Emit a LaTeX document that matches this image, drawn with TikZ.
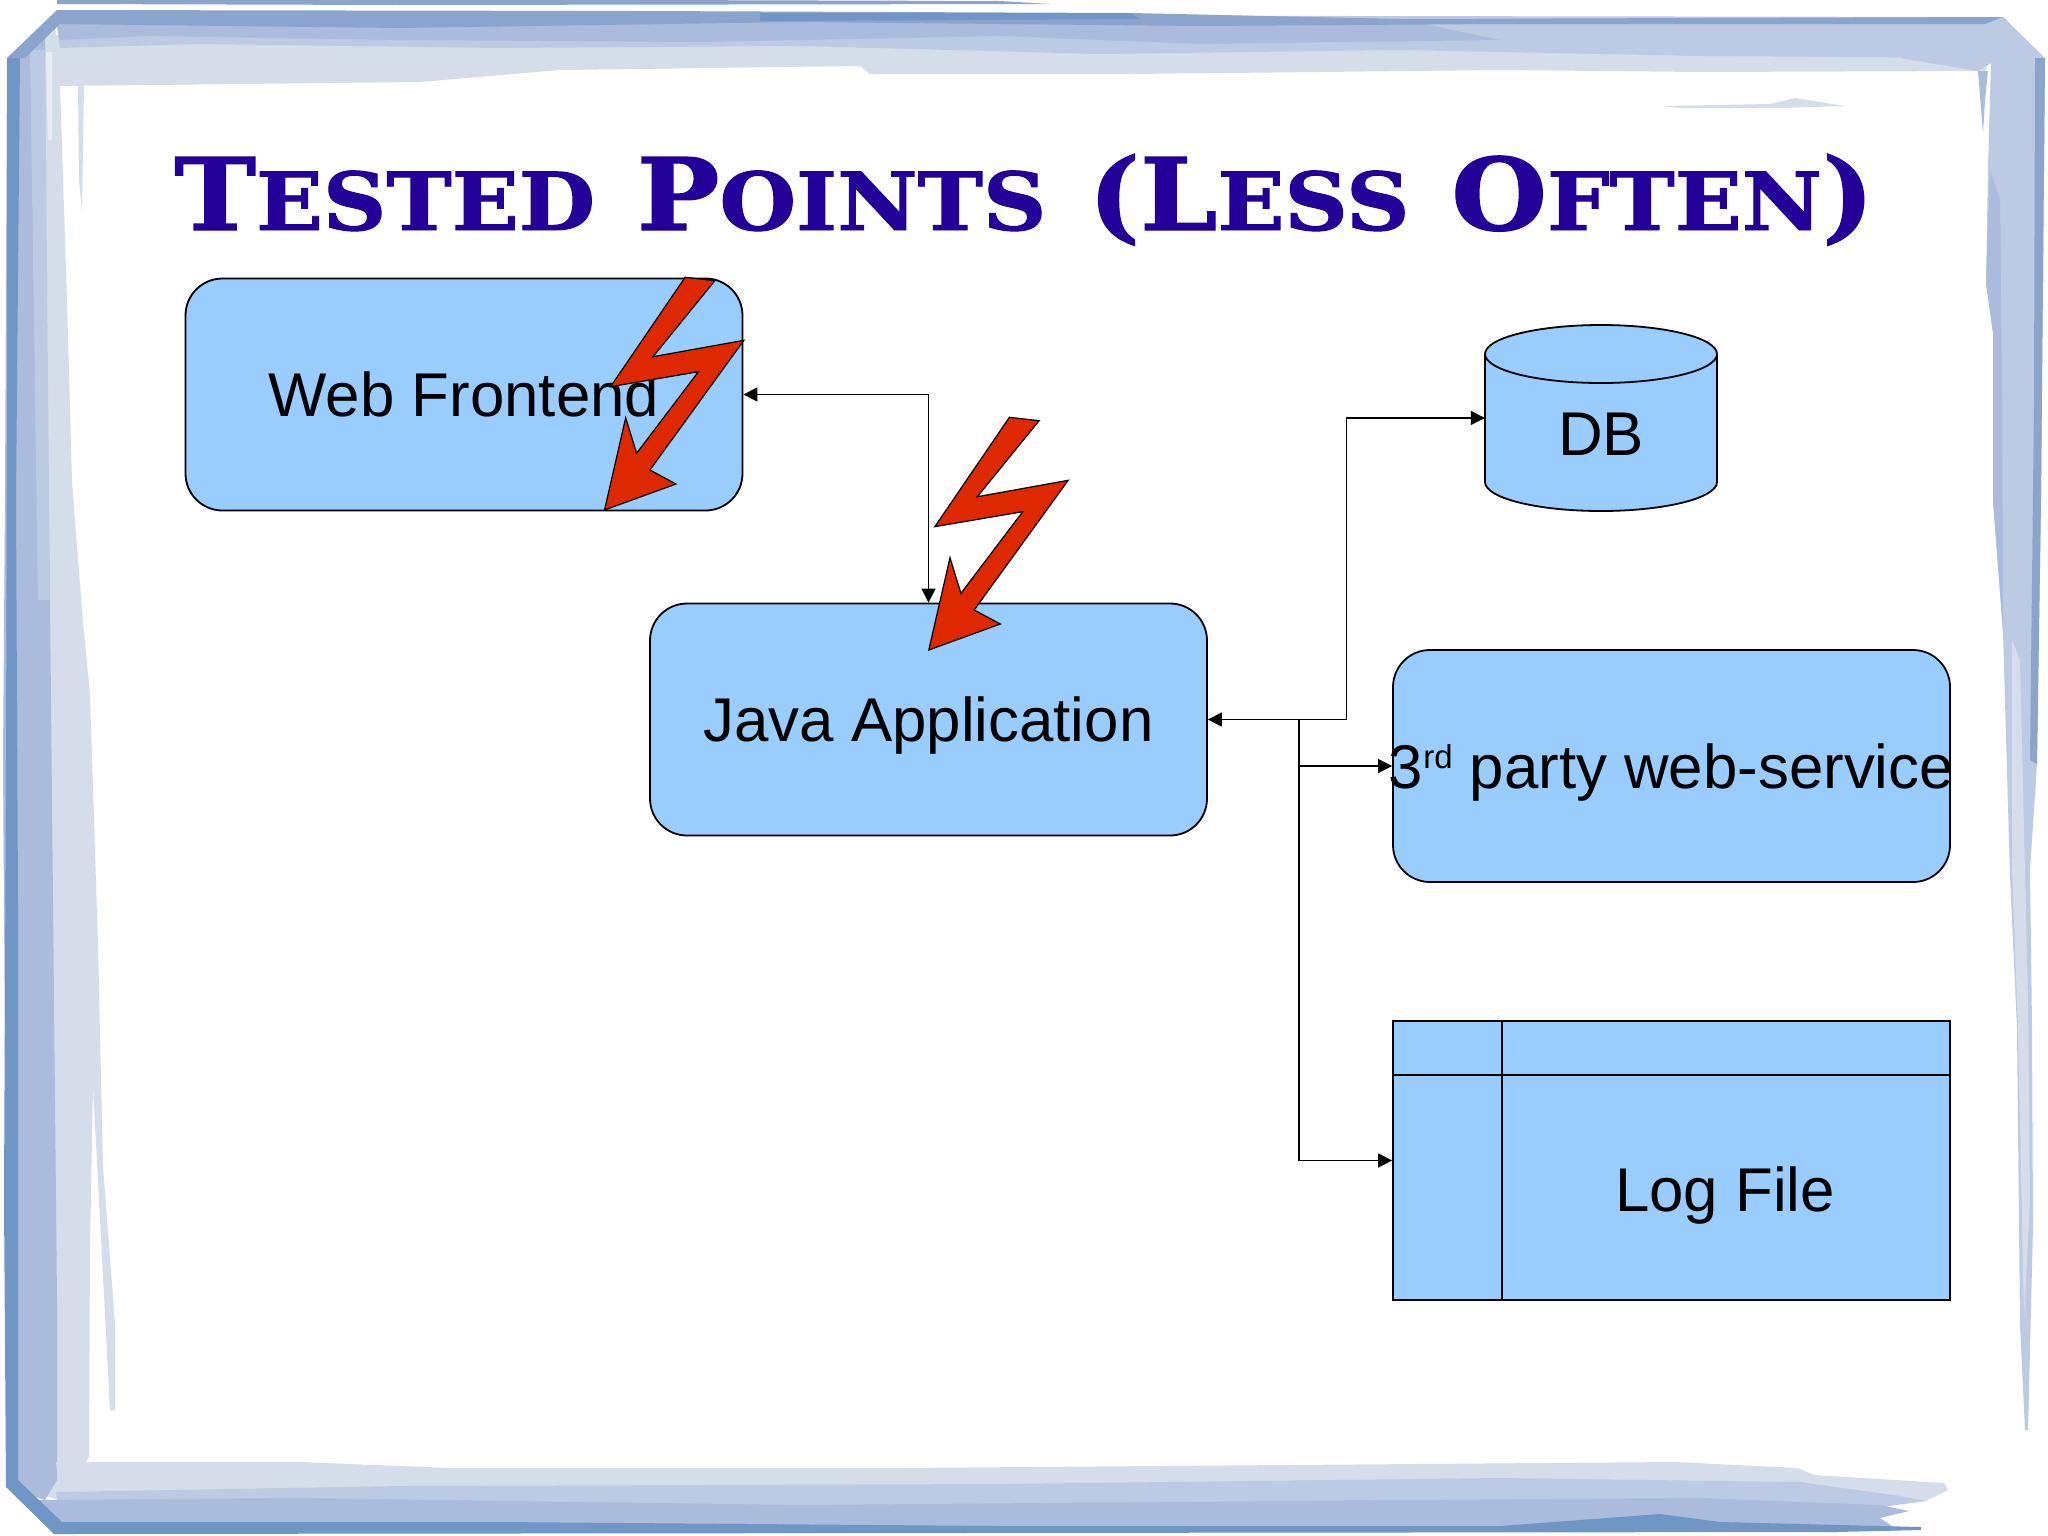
\documentclass[tikz,border=0pt]{standalone}
\usepackage{fontspec}
\usepackage{graphicx}
\setmainfont{Liberation Sans}
\newfontfamily\titlefont[BoldFont={DejaVu Serif Bold},BoldFeatures={FakeBold=1.2}]{DejaVu Serif}
\usetikzlibrary{arrows.meta}
\definecolor{boxblue}{HTML}{99CCFF}
\definecolor{boltred}{HTML}{DD2800}
\definecolor{titleblue}{HTML}{230098}
\definecolor{fdark}{HTML}{7096C6}
\definecolor{fdeep}{HTML}{8AA4CC}
\definecolor{fmid}{HTML}{ABBBDC}
\definecolor{fsoft}{HTML}{BDCAE3}
\definecolor{flight}{HTML}{D6DDEA}
\definecolor{fpale}{HTML}{E8ECF5}
\newcommand{\mytitlebig}[1]{{\fontsize{100}{100}\selectfont #1}}
\newcommand{\mytitlesmall}[1]{{\fontsize{80}{80}\selectfont #1}}
\newcommand{\mygap}{\hspace{38pt}}
\newcommand{\mybolt}{(1009.4,417.3) -- (934.8,526.7) -- (1022.7,511.7) -- (960.9,593.3) -- (950,557.7) -- (928.8,650) -- (1000.3,624) -- (974.2,610) -- (1068.2,480.3) -- (977.3,496.7) -- (1039.1,420.7) -- cycle}
\tikzset{
  box/.style={draw=black,line width=1.8pt,fill=boxblue,inner sep=0pt,font=\fontsize{61.8}{61.8}\selectfont,text height=44pt,text depth=0pt},
  roundbox/.style={box,rounded corners=37pt,minimum width=557pt,minimum height=232pt},
  boxtext/.style={inner sep=0pt,font=\fontsize{61.8}{61.8}\selectfont,text height=44pt,text depth=0pt},
  link/.style={draw=black,line width=1.5pt,arrows={Triangle[length=14pt,width=14pt]-Triangle[length=14pt,width=14pt]}},
  linkend/.style={draw=black,line width=1.5pt,-{Triangle[length=14pt,width=14pt]}},
  bolt/.style={fill=boltred,draw=black,line width=1.2pt,line join=miter}
}
\begin{document}
\begin{tikzpicture}[x=1pt,y=-1pt]
\useasboundingbox (0,0) rectangle (2048,1535);
\fill[white] (0,0) rectangle (2048,1535);
% --- brushed frame: top
\fill[fdeep] (57,0) -- (640,0) -- (1000,1) -- (1050,4) -- (400,5) -- (57,4) -- cycle;
\fill[flight] (50,48) -- (60,86) -- (420,82) -- (560,70) -- (860,66) -- (870,74) -- (1130,74) -- (1320,72) -- (1500,70) -- (1700,72) -- (1985,71) -- (2000,40) -- (50,35) -- cycle;
\fill[fsoft] (55,14) -- (2003,17) -- (2040,58) -- (1995,58) -- (1700,56) -- (1400,50) -- (1100,54) -- (800,46) -- (500,48) -- (200,44) -- (60,48) -- cycle;
\fill[fmid] (55,12) -- (500,12) -- (1130,16) -- (1400,19) -- (1500,40) -- (1200,44) -- (1000,36) -- (700,42) -- (400,40) -- (150,36) -- (60,40) -- cycle;
\fill[fdeep] (57,10) -- (640,11) -- (1130,13) -- (1400,19) -- (2003,17) -- (2010,24) -- (1500,24) -- (1200,26) -- (800,22) -- (400,28) -- (60,24) -- cycle;
\fill[fdark] (760,13) -- (1130,13) -- (1140,19) -- (760,21) -- cycle;
\fill[flight] (1663,106) -- (1770,104) -- (1795,98) -- (1845,106) -- (1780,108) -- (1680,108) -- cycle;
% --- left
\fill[flight] (8,58) -- (55,25) -- (60,85) -- (67,300) -- (72,481) -- (83,623) -- (90,694) -- (98,945) -- (103,1166) -- (115,1324) -- (115,1410) -- (110,1410) -- (103,1276) -- (93,1087) -- (90,1245) -- (89,1457) -- (60,1500) -- (8,1487) -- cycle;
\fill[fmid] (7,58) -- (45,25) -- (46,300) -- (50,600) -- (53,900) -- (57,1300) -- (57,1480) -- (45,1500) -- (6,1487) -- (6,1200) -- (3,760) -- (5,500) -- cycle;
\fill[fsoft] (30,50) -- (45,50) -- (50,600) -- (38,600) -- cycle;
\fill[fpale] (46,52) -- (52,52) -- (52,140) -- (48,140) -- cycle;
\fill[flight] (78,85) -- (84,85) -- (82,210) -- (79,180) -- cycle;
\fill[fdark] (7,58) -- (20,58) -- (16,500) -- (18,900) -- (18,1480) -- (6,1487) -- (4,1200) -- (6,760) -- (7,400) -- cycle;
\fill[fdeep] (7,58) -- (57,10) -- (62,22) -- (25,58) -- cycle;
% --- right
\fill[fsoft] (2003,17) -- (2045,58) -- (2041,500) -- (2037,764) -- (2030,870) -- (2032,1028) -- (2033,1226) -- (2028,1430) -- (2025,1430) -- (2020,1325) -- (2017,1028) -- (2010,876) -- (2003,632) -- (1993,500) -- (1993,333) -- (1986,283) -- (1988,167) -- (1991,63) -- (1978,71) -- (1900,58) -- cycle;
\fill[fmid] (1990,170) -- (2000,200) -- (2002,400) -- (2003,632) -- (1993,500) -- (1993,333) -- (1986,283) -- cycle;
\fill[fdeep] (2035,58) -- (2045,58) -- (2041,500) -- (2037,764) -- (2030,760) -- (2034,400) -- cycle;
\fill[flight] (2012,640) -- (2020,660) -- (2028,1000) -- (2030,1200) -- (2024,1320) -- (2018,1028) -- (2012,870) -- cycle;
\fill[fmid] (1978,71) -- (1988,71) -- (1985,100) -- (1983,133) -- cycle;
% --- bottom
\fill[flight] (56,1462) -- (300,1462) -- (450,1468) -- (900,1468) -- (1675,1462) -- (1797,1468) -- (1815,1475) -- (1944,1483) -- (1948,1490) -- (1926,1501) -- (1600,1520) -- (60,1500) -- cycle;
\fill[fsoft] (56,1492) -- (400,1486) -- (1000,1484) -- (1500,1478) -- (1800,1482) -- (1900,1496) -- (1926,1501) -- (1875,1508) -- (1500,1520) -- (60,1520) -- cycle;
\fill[fmid] (30,1500) -- (300,1498) -- (800,1505) -- (1400,1500) -- (1700,1498) -- (1880,1505) -- (1909,1511) -- (1880,1518) -- (1898,1530) -- (60,1533) -- cycle;
\fill[fdark] (6,1487) -- (18,1480) -- (62,1522) -- (500,1522) -- (1000,1526) -- (1500,1526) -- (1660,1514) -- (1720,1522) -- (1921,1527) -- (1921,1530) -- (1836,1532) -- (54,1534) -- cycle;
% --- title
\node[inner sep=0pt,anchor=base west,text=titleblue] (title) at (174,230) {\resizebox{1700pt}{\height}{\titlefont\bfseries\mytitlebig{T}\mytitlesmall{ESTED}\mygap\mytitlebig{P}\mytitlesmall{OINTS}\mygap\mytitlebig{(L}\mytitlesmall{ESS}\mygap\mytitlebig{O}\mytitlesmall{FTEN}\mytitlebig{)}}};
% --- shapes
\node[roundbox] (web) at (464,394.5) {Web Frontend};
\node[roundbox] (java) at (928.5,719.5) {Java Application};
\node[roundbox] (party) at (1671.5,766) {};
\node[boxtext] (partytext) at (1671.5,766) {3\raisebox{20pt}{\fontsize{33}{33}\selectfont rd} party web-service};
\fill[boxblue,draw=black,line width=1.8pt] (1485,354) -- (1485,482) .. controls (1485,498) and (1537,511) .. (1601,511) .. controls (1665,511) and (1717,498) .. (1717,482) -- (1717,354) -- cycle;
\draw[fill=boxblue,line width=1.8pt] (1601,354) ellipse [x radius=116,y radius=29];
\node[inner sep=0pt,minimum width=232pt,minimum height=186pt] (db) at (1601,418) {};
\node[boxtext] (dbtext) at (1601,433) {DB};
\node[box,minimum width=557pt,minimum height=279pt] (log) at (1671.5,1160.5) {};
\draw[line width=1.8pt] (log.west |- 0,1075) -- (log.east |- 0,1075);
\draw[line width=1.8pt] (1502,1021) -- (1502,1300);
\node[boxtext] (logtext) at (1725,1189) {Log File};
% --- connectors
\coordinate (trunk) at (1299,719.5);
\coordinate (dbleg) at (1346.5,719.5);
\draw[link] (web.east) -| (java.north);
\draw[link] (java.east) -- (dbleg) |- (db.west);
\draw[linkend] (trunk) |- (party.west);
\draw[linkend] (trunk) |- (log.west);
% --- bolts
\path[bolt] \mybolt;
\begin{scope}[shift={(-324.3,-140)}]
\path[bolt] \mybolt;
\end{scope}
\end{tikzpicture}
\end{document}
